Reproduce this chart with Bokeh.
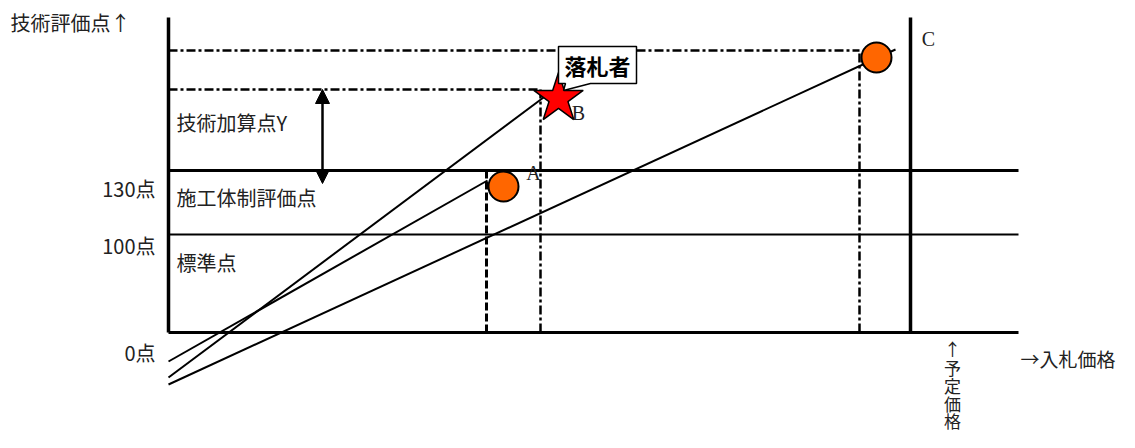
from bokeh.plotting import figure
from bokeh.models import Range1d, Arrow, NormalHead
from bokeh.core.properties import value
from bokeh.embed import file_html
from bokeh.resources import INLINE

# ---- schematic data (x: bid price units, y: technical score units) ----
axis_top = 315
axis_right = 850
score_levels = [0, 98, 162]                 # baseline(0点), 100点, 130点
level_widths = [3, 2, 3]
score_labels = ["0点", "100点", "130点"]
score_label_y = [-20, 87, 144]
band_labels = ["標準点", "施工体制評価点", "技術加算点Y"]
band_label_y = [70, 135, 210]
yotei_price = 742                           # 予定価格

bidders = ["A", "B", "C"]
bid_price = [335, 390, 708]
bid_score = [146, 234, 275]
bidder_label_x = [365, 410, 760]
bidder_label_y = [160, 220, 294]

# guide lines
guideA_x, guideA_top = 318, 162
guideB_x, guideB_top = 372, 243
guideC_x, guideC_top = 691, 282

# price-evaluation lines (from left edge to each bidder)
diag_y0 = [-29, -45, -52]
diag_x1 = [319, 375, 727]
diag_y1 = [152, 235, 283]

# technical additional points arrow
arrow_x = 154
arrow_bottom, arrow_top = 149, 243

# callout
callout_text = "落札者"
callout_xs = [390, 468, 468, 422, 395, 397, 390]
callout_ys = [286, 286, 249, 249, 242, 249, 249]

yotei_chars = ["↑", "予", "定", "価", "格"]
yotei_char_y = [-16, -35, -53, -71, -88]

FONT = value("Noto Sans CJK JP")
SERIF = value("Liberation Serif")
TXT = "#222222"

p = figure(width=1119, height=432, output_backend="svg", toolbar_location=None,
           x_range=Range1d(-168, 951), y_range=Range1d(-100, 332),
           min_border=0, outline_line_color=None)
p.axis.visible = False
p.grid.visible = False

# diagonal price lines
p.segment(x0=[0, 0, 0], y0=diag_y0, x1=diag_x1, y1=diag_y1,
          line_color="black", line_width=2)

# horizontal score levels
for lv, lw in zip(score_levels, level_widths):
    p.segment(x0=[0], y0=[lv], x1=[axis_right], y1=[lv], line_color="black", line_width=lw)

# left axis and 予定価格 line
p.segment(x0=[0, yotei_price], y0=[0, 0], x1=[0, yotei_price], y1=[axis_top, axis_top],
          line_color="black", line_width=3.5)

# guides
p.segment(x0=[guideA_x], y0=[0], x1=[guideA_x], y1=[guideA_top],
          line_color="black", line_width=3, line_dash="8 3")
p.segment(x0=[guideB_x, guideC_x], y0=[0, 0], x1=[guideB_x, guideC_x], y1=[guideB_top, guideC_top],
          line_color="black", line_width=2.5, line_dash="9 3 3 3")
p.segment(x0=[0, 0], y0=[guideB_top, guideC_top], x1=[guideB_x, guideC_x], y1=[guideB_top, guideC_top],
          line_color="black", line_width=2.5, line_dash="9 3 3 3")

# arrow
p.add_layout(Arrow(x_start=arrow_x, y_start=arrow_bottom, x_end=arrow_x, y_end=arrow_top,
                   line_width=2.5, line_color="black",
                   start=NormalHead(size=14, fill_color="black", line_color="black"),
                   end=NormalHead(size=14, fill_color="black", line_color="black")))

# bidders
p.scatter(x=[bid_price[0], bid_price[2]], y=[bid_score[0], bid_score[2]], marker="circle",
          size=30, fill_color="#FF6600", line_color="black", line_width=2)
p.scatter(x=[bid_price[1]], y=[bid_score[1]], marker="star", size=52,
          fill_color="#FF0000", line_color="black", line_width=1.5)

# callout
p.patch(x=callout_xs, y=callout_ys, fill_color="white", line_color="black", line_width=1.5)
p.text(x=[429], y=[268], text=[callout_text], text_font=FONT, text_font_size="22px",
       text_font_style="bold", text_align="center", text_baseline="middle", text_color="black")

# bidder labels
p.text(x=bidder_label_x, y=bidder_label_y, text=bidders, text_font=SERIF, text_font_size="20px",
       text_align="center", text_baseline="middle", text_color=TXT)

# score labels
p.text(x=[-13] * 3, y=score_label_y, text=score_labels, text_font=FONT, text_font_size="20px",
       text_align="right", text_baseline="middle", text_color=TXT)
p.text(x=[8] * 3, y=band_label_y, text=band_labels, text_font=FONT, text_font_size="20px",
       text_align="left", text_baseline="middle", text_color=TXT)

# axis titles
p.text(x=[-158], y=[310], text=["技術評価点↑"], text_font=FONT, text_font_size="20px",
       text_align="left", text_baseline="middle", text_color=TXT)
p.text(x=[852], y=[-26], text=["→入札価格"], text_font=FONT, text_font_size="19px",
       text_align="left", text_baseline="middle", text_color=TXT)
p.text(x=[784] * len(yotei_chars), y=yotei_char_y, text=yotei_chars, text_font=FONT,
       text_font_size="17px", text_align="center", text_baseline="middle", text_color=TXT)

open("out.html", "w").write(file_html(p, INLINE))
